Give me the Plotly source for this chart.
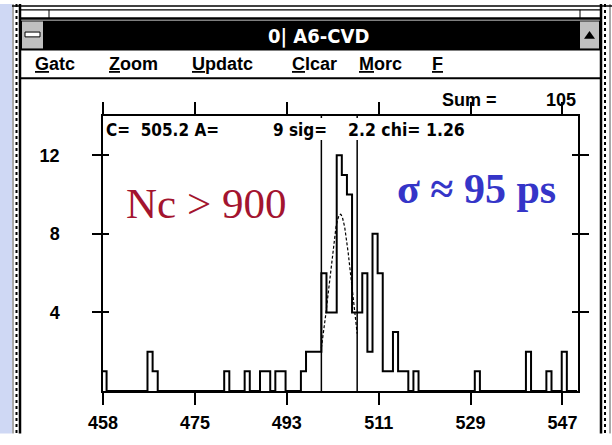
import numpy as np
import plotly.graph_objects as go

# ---- spectrum data (counts per channel) ----
CH_FIRST = 459
CH_LAST = 551
HIT_CHANNELS = [459, 468, 469, 483, 487, 490, 491, 493, 494, 498,
                499, 500, 501, 502, 503, 504, 505, 506, 507, 508,
                509, 510, 511, 512, 513, 514, 515, 516, 517, 518,
                520, 532, 542, 546, 549]
HIT_COUNTS = [1, 2, 1, 1, 1, 1, 1, 1, 1, 1,
              2, 2, 2, 6, 4, 4, 12, 11, 10, 4,
              4, 6, 2, 8, 6, 1, 1, 3, 1, 1,
              1, 1, 2, 1, 2]

# ---- gaussian fit result ----
FIT_C = 505.2
FIT_A = 9
FIT_SIG = 2.2
FIT_CHI = 1.26
FIT_LO = 501.5
FIT_HI = 508.5
SUM_TOTAL = 105

# ---- axis labels ----
X_TICK_LABELS = ["458", "475", "493", "511", "529", "547"]
Y_TICKS = [4, 8, 12]

# ---- page geometry (pixels) ----
W, H = 612, 445
ML, MR, MT, MB = 103, 34, 116, 44
PW, PH = W - ML - MR, H - MT - MB

X_LO = 458.8
X_HI = X_LO + PW / 5.114
TICK_STEP = 17.97


def fx(px):
    return (px - ML) / PW


def fy(py):
    return (H - MB - py) / PH


UI_FONT = "Liberation Sans, Arial, sans-serif"
NARROW_FONT = "Liberation Sans Narrow, Arial Narrow, DejaVu Sans Condensed, sans-serif"

channels = np.arange(CH_FIRST, CH_LAST + 1)
counts = np.zeros(len(channels))
for ch, n in zip(HIT_CHANNELS, HIT_COUNTS):
    counts[ch - CH_FIRST] = n

edges = np.append(channels - 0.5, channels[-1] + 0.5)
steps = np.append(counts, counts[-1])

xf = np.linspace(FIT_LO, FIT_HI, 120)
yf = FIT_A * np.exp(-0.5 * ((xf - FIT_C) / FIT_SIG) ** 2)

fig = go.Figure()
fig.add_trace(go.Scatter(x=edges, y=steps, mode="lines", line_shape="hv",
                         line=dict(color="black", width=2),
                         hoverinfo="skip", showlegend=False))
fig.add_trace(go.Scatter(x=xf, y=yf, mode="lines",
                         line=dict(color="black", width=1.2, dash="3px,2px"),
                         hoverinfo="skip", showlegend=False))

tickvals = [X_LO + TICK_STEP * i for i in range(len(X_TICK_LABELS))]

shapes = []
# fit window markers
for xv in (FIT_LO, FIT_HI):
    shapes.append(dict(type="line", xref="x", yref="paper", x0=xv, x1=xv,
                       y0=0, y1=1, line=dict(color="black", width=1.5)))
# white backing behind the fit summary line
shapes.append(dict(type="rect", xref="paper", yref="paper",
                   x0=fx(104.5), x1=fx(472), y0=fy(141), y1=fy(118),
                   fillcolor="white", line=dict(width=0), layer="above"))


def rect(x0, y0, x1, y1, fill, lw=0, lc="black", dash=None):
    ln = dict(width=lw, color=lc)
    if dash:
        ln["dash"] = dash
    shapes.append(dict(type="rect", xref="paper", yref="paper",
                       x0=fx(x0), x1=fx(x1), y0=fy(y1), y1=fy(y0),
                       fillcolor=fill, line=ln, layer="above"))


def hline(x0, x1, y, lw=1, color="black", dash=None):
    ln = dict(width=lw, color=color)
    if dash:
        ln["dash"] = dash
    shapes.append(dict(type="line", xref="paper", yref="paper",
                       x0=fx(x0), x1=fx(x1), y0=fy(y), y1=fy(y), line=ln,
                       layer="above"))


def vline(x, y0, y1, lw=1, color="black", dash=None):
    ln = dict(width=lw, color=color)
    if dash:
        ln["dash"] = dash
    shapes.append(dict(type="line", xref="paper", yref="paper",
                       x0=fx(x), x1=fx(x), y0=fy(y0), y1=fy(y1), line=ln,
                       layer="above"))


# desktop strip on the left
rect(0, 0, 12, H, "#cfd8f4")
# window frames
rect(12, 0, 22, H, "white")
vline(13, 0, H, 1, "#555")
vline(16.5, 0, H, 2, "black", "dot")
vline(20, 0, H, 2.5, "black")
rect(599, 0, 612, H, "white")
vline(601, 0, H, 2.5, "black")
vline(605, 0, H, 2, "black", "dot")
vline(610, 0, H, 1, "#555")
# window above (bottom edge)
hline(12, 612, 2, 1.5)
hline(20, 601, 6, 1.2)
hline(20, 601, 15, 2.5)
vline(49, 6, 15, 1)
vline(580, 6, 15, 1)
# title bar
rect(21, 17, 600, 48, "black")
rect(22, 18, 43, 46, "#c0c0c0")
rect(25, 29, 40, 34, "white", 1, "black")
rect(580, 18, 599, 46, "#c0c0c0")
shapes.append(dict(type="path", xref="paper", yref="paper",
                   path="M {} {} L {} {} L {} {} Z".format(
                       fx(584), fy(36), fx(595), fy(36), fx(589.5), fy(28)),
                   fillcolor="black", line=dict(width=0), layer="above"))
# menu bar
hline(21, 600, 77, 2)


def label(text, px, py, size, anchor="left", family=UI_FONT, color="black"):
    return dict(text=text, xref="paper", yref="paper", x=fx(px), y=fy(py),
                showarrow=False, xanchor=anchor, yanchor="middle",
                font=dict(family=family, size=size, color=color))


annotations = [label("<b>0| A6-CVD</b>", 318, 33, 20, "center",
                     NARROW_FONT, "white")]
menu = [("G", "atc", 33), ("Z", "oom", 107), ("U", "pdatc", 190),
        ("C", "lcar", 290), ("M", "orc", 357), ("F", "", 430)]
for first, rest, xl in menu:
    annotations.append(label("<b><u>{}</u>{}</b>".format(first, rest),
                             xl, 62, 18))

annotations += [
    label("<b>Sum =</b>", 440, 99, 18),
    label("<b>{}</b>".format(SUM_TOTAL), 578, 99, 18, "right"),
    label("<b>C=\u00a0 {} A=</b>".format(FIT_C), 104, 131, 17, "left",
          NARROW_FONT),
    label("<b>{} sig=</b>".format(FIT_A), 271, 131, 17, "left", NARROW_FONT),
    label("<b>{} chi= {}</b>".format(FIT_SIG, FIT_CHI), 346, 131, 17.5,
          "left", NARROW_FONT),
    label("Nc > 900", 206, 207, 43, "center",
          "Liberation Serif, Times New Roman, serif", "#a3142f"),
    label("<b>\u03c3 \u2248 95 ps</b>", 476, 192, 42, "center",
          "Liberation Serif, Times New Roman, serif", "#3535c8"),
]

fig.update_layout(
    width=W, height=H,
    margin=dict(l=ML, r=MR, t=MT, b=MB, pad=0),
    paper_bgcolor="white", plot_bgcolor="white",
    shapes=shapes, annotations=annotations,
    showlegend=False,
    xaxis=dict(range=[X_LO, X_HI], tickvals=tickvals,
               ticktext=["<b>{}</b>".format(t) for t in X_TICK_LABELS],
               ticks="outside", ticklen=12, tickwidth=1.5, tickcolor="black",
               showline=True, linecolor="black", linewidth=2, mirror="ticks",
               showgrid=False, zeroline=False, ticklabelstandoff=2,
               tickfont=dict(family=UI_FONT, size=18, color="black")),
    yaxis=dict(range=[0, 14], tickvals=Y_TICKS,
               ticktext=["<b>{}</b>".format(t) for t in Y_TICKS],
               ticks="outside", ticklen=9,
               tickwidth=1.5, tickcolor="black", showline=True,
               linecolor="black", linewidth=1.5, mirror="ticks",
               showgrid=False, zeroline=False, ticklabelstandoff=29,
               tickfont=dict(family=UI_FONT, size=18, color="black")),
    yaxis2=dict(range=[0, 14], tickvals=Y_TICKS, ticks="inside", ticklen=6,
                tickwidth=1.5, tickcolor="black", overlaying="y", side="left",
                showticklabels=False, showline=False, mirror="ticks",
                showgrid=False, zeroline=False),
)
# invisible trace to anchor the secondary y axis (inner tick marks)
fig.add_trace(go.Scatter(x=[X_LO], y=[0], yaxis="y2", mode="markers",
                         marker=dict(opacity=0), hoverinfo="skip",
                         showlegend=False))

fig.write_html("out.html")
